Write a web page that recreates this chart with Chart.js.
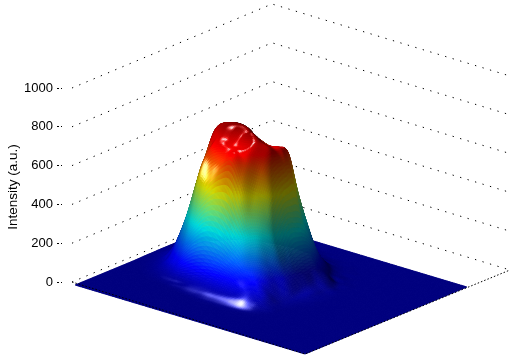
<!DOCTYPE html>
<html>
<head>
<meta charset="utf-8">
<style>
html,body{margin:0;padding:0;background:#fff;overflow:hidden}
canvas{display:block}
</style>
<script src="https://cdn.jsdelivr.net/npm/chart.js@4/dist/chart.umd.min.js"></script>
</head>
<body>
<canvas id="grafico" width="514" height="361"></canvas>
<script>
const zTicks = [0,200,400,600,800,1000]
const zLabel = "Intensity (a.u.)"

// heights, one row per step along the left-to-back edge (first row nearest the front)
const heights = [
[0,0,0,0,0,0,0,0,0,0,0,0,0,0,0,0,0,0,0,0,0,0,0,0,0,0],
[0,0,0,0,0,0,0,0,0,0,0,0,0,0,0,0,0,0,0,0,0,0,0,0,0,0],
[0,0,0,0,0,0,0,0,0,0,0,0,0,0,0,0,0,0,0,0,0,0,0,0,0,0],
[0,0,0,0,0,0,0,0,0,0,0,0,0,0,0,0,0,0,0,0,0,0,0,0,0,0],
[0,0,0,0,0,0,0,0,0,0,0,0,0,0,0,0,0,0,0,0,0,0,0,0,0,0],
[0,0,0,0,0,0,0,0,1,3,6,7,8,8,6,2,0,0,0,0,0,0,0,0,0,0],
[0,0,0,0,1,2,5,9,16,22,27,30,32,32,28,16,4,0,0,0,0,0,0,0,0,0],
[0,0,0,3,8,15,26,38,54,68,78,84,85,78,60,36,12,0,0,0,0,0,0,0,0,0],
[0,0,3,11,24,50,102,150,180,190,185,165,145,115,85,50,14,0,0,0,0,0,0,0,0,0],
[0,2,8,24,62,135,225,305,365,385,370,315,250,175,110,52,14,2,0,0,0,0,0,0,0,0],
[1,4,16,45,130,240,375,490,555,610,640,540,390,270,155,65,20,4,1,0,0,0,0,0,0,0],
[2,8,27,90,210,365,545,640,670,665,680,650,515,370,225,105,30,8,2,0,0,0,0,0,0,0],
[2,13,40,130,270,470,600,690,700,680,690,705,620,472,268,132,40,13,2,0,0,0,0,0,0,0],
[3,15,50,158,325,535,700,735,740,715,745,715,670,525,330,155,52,15,3,0,0,0,0,0,0,0],
[3,15,50,160,330,600,715,742,750,740,695,680,665,545,325,165,58,15,3,0,0,0,0,0,0,0],
[3,14,45,145,305,590,700,720,720,685,655,660,660,545,305,160,68,18,3,0,0,0,0,0,0,0],
[2,11,33,105,240,420,650,680,670,640,625,610,620,340,245,110,58,11,2,0,0,0,0,0,0,0],
[1,7,22,70,165,305,455,570,615,610,590,555,450,300,165,70,22,7,1,0,0,0,0,0,0,0],
[0,3,13,33,92,175,290,400,465,490,465,400,290,175,92,33,13,3,0,0,0,0,0,0,0,0],
[0,1,4,15,40,90,155,225,265,285,265,225,155,90,40,15,4,1,0,0,0,0,0,0,0,0],
[0,0,2,6,15,30,55,92,122,130,122,92,55,30,15,6,2,0,0,0,0,0,0,0,0,0],
[0,0,0,2,4,11,18,27,33,38,33,27,18,11,4,2,0,0,0,0,0,0,0,0,0,0],
[0,0,0,0,1,2,4,8,11,11,11,8,4,2,1,0,0,0,0,0,0,0,0,0,0,0],
[0,0,0,0,0,0,1,1,2,2,2,1,1,0,0,0,0,0,0,0,0,0,0,0,0,0],
[0,0,0,0,0,0,0,0,0,0,0,0,0,0,0,0,0,0,0,0,0,0,0,0,0,0],
[0,0,0,0,0,0,0,0,0,0,0,0,0,0,0,0,0,0,0,0,0,0,0,0,0,0]
]

/* vista: x scale runs in page pixels, y scale in intensity units */
const pxPerUnit = 0.194
const plotLeft = 62
const plotTop = 13
const zeroY = 282
const cMax = 760

function toX(s,t){ return 75 + 230*s + 162*t }
function toZ(s,t,z){ return z + (-3 - 69*s + 67*t)/pxPerUnit }

// caja: izquierda, frente, derecha, fondo
const boxLeft = {x:72, z:0}
const boxFront = {x:305, z:-72/pxPerUnit}
const boxRight = {x:510, z:12/pxPerUnit}
const boxBack = {x:272, z:84/pxPerUnit}

function jet(v){
  v = Math.max(0,Math.min(1,v))
  const f = c => Math.max(0,Math.min(1,1.5-Math.abs(4*v-c)))
  return [f(3),f(2),f(1)]
}

function cr(a,b,c,d,u){
  return b + 0.5*u*(c-a + u*(2*a-5*b+4*c-d + u*(3*(b-c)+d-a)))
}

function sample(fs,ft){
  const n = heights.length-1, m = heights[0].length-1
  const j = Math.min(Math.floor(ft),n-1), i = Math.min(Math.floor(fs),m-1)
  const u = fs-i, w = ft-j
  const cols = []
  for(let b=-1;b<=2;b++){
    const r = heights[Math.max(0,Math.min(n,j+b))]
    cols.push(cr(r[Math.max(0,i-1)],r[i],r[i+1],r[Math.min(m,i+2)],u))
  }
  return Math.max(0,cr(cols[0],cols[1],cols[2],cols[3],w))
}

function norm(v){
  const l = Math.hypot(v[0],v[1],v[2])
  return [v[0]/l,v[1]/l,v[2]/l]
}
function dot(a,b){ return a[0]*b[0]+a[1]*b[1]+a[2]*b[2] }

const kZ = 0.000735
const luzBase = norm([-0.05,-0.55,0.85])
const brillo1 = norm([0.1,-0.42,0.9])
const brillo2 = norm([-0.45,-0.83,0.3])

const surfacePlugin = {
  id:"surface",
  afterDatasetDraw(chart,args){
    if(chart.data.datasets[args.index].label !== "surface") return
    const ctx = chart.ctx, sx = chart.scales.x, sy = chart.scales.y
    const sub = 8
    const rows = heights.length-1, cols = heights[0].length-1
    const nT = rows*sub, nS = cols*sub
    const Z = []
    for(let b=0;b<=nT;b++){
      Z[b] = []
      for(let a=0;a<=nS;a++) Z[b][a] = sample(a/sub,b/sub)
    }
    const ds = 1/nS, dt = 1/nT
    ctx.save()
    ctx.lineWidth = 0.7
    ctx.lineJoin = "round"
    for(let b=nT-1;b>=0;b--){
      for(let a=0;a<nS;a++){
        const z00=Z[b][a], z10=Z[b][a+1], z01=Z[b+1][a], z11=Z[b+1][a+1]
        const s0=a*ds, s1=(a+1)*ds, t0=b*dt, t1=(b+1)*dt
        const zm=(z00+z10+z01+z11)/4
        const N = norm([-kZ*((z10+z11)-(z00+z01))/(2*ds), -kZ*((z01+z11)-(z00+z10))/(2*dt), 1])
        let shade = 1.35*dot(N,luzBase) - 0.13
        shade = Math.max(0.4,Math.min(1,shade))
        const alto = Math.max(0,Math.min(1,(zm-490)/30))*Math.max(0,Math.min(1,(600-zm)/30))
        const sp = 1.0*Math.pow(Math.max(0,dot(N,brillo1)),110) + 0.7*alto*Math.pow(Math.max(0,dot(N,brillo2)),130)
        const c = jet(zm/cMax)
        const col = "rgb("+c.map(v=>Math.round(Math.min(1,v*shade+sp)*255)).join(",")+")"
        ctx.fillStyle = col
        ctx.strokeStyle = col
        ctx.beginPath()
        ctx.moveTo(sx.getPixelForValue(toX(s0,t0)),sy.getPixelForValue(toZ(s0,t0,z00)))
        ctx.lineTo(sx.getPixelForValue(toX(s1,t0)),sy.getPixelForValue(toZ(s1,t0,z10)))
        ctx.lineTo(sx.getPixelForValue(toX(s1,t1)),sy.getPixelForValue(toZ(s1,t1,z11)))
        ctx.lineTo(sx.getPixelForValue(toX(s0,t1)),sy.getPixelForValue(toZ(s0,t1,z01)))
        ctx.closePath()
        ctx.fill()
        ctx.stroke()
      }
    }
    ctx.restore()
  }
}

const datasets = []

zTicks.forEach(z => {
  datasets.push({
    label:"z"+z,
    data:[
      {x:boxLeft.x,y:boxLeft.z+z},
      {x:boxBack.x,y:boxBack.z+z},
      {x:boxRight.x,y:boxRight.z+z}
    ],
    showLine:true,
    borderColor:"#000",
    borderWidth:1,
    borderDash:[1.3,6.5],
    pointRadius:0,
    clip:false,
    order:3
  })
})

const nodos = []
heights.forEach((r,j) => r.forEach((h,i) => {
  const s = i/(r.length-1), t = j/(heights.length-1)
  nodos.push({x:toX(s,t),y:toZ(s,t,h)})
}))
datasets.push({label:"surface",data:nodos,pointRadius:0,showLine:false,clip:false,order:2})

datasets.push({
  label:"frente",
  data:[
    {x:boxLeft.x,y:boxLeft.z},
    {x:boxFront.x,y:boxFront.z},
    {x:boxRight.x,y:boxRight.z}
  ],
  showLine:true,
  borderColor:"#000",
  borderWidth:1,
  borderDash:[1.5,2],
  pointRadius:0,
  clip:false,
  order:1
})

new Chart(document.getElementById("grafico"),{
  type:"scatter",
  data:{datasets:datasets},
  plugins:[surfacePlugin],
  options:{
    responsive:false,
    animation:false,
    layout:{padding:{top:plotTop}},
    plugins:{legend:{display:false},tooltip:{enabled:false}},
    scales:{
      x:{
        display:false,
        min:plotLeft,
        max:514
      },
      y:{
        min:(zeroY-361)/pxPerUnit,
        max:(zeroY-plotTop)/pxPerUnit,
        afterFit(scale){
          scale.width = plotLeft
          scale.paddingTop = 0
          scale.paddingBottom = 0
        },
        afterBuildTicks(scale){ scale.ticks = zTicks.map(v => ({value:v})) },
        border:{display:false},
        grid:{
          drawOnChartArea:false,
          drawTicks:true,
          tickLength:5,
          tickColor:"#000",
          tickBorderDash:[2,2]
        },
        ticks:{
          color:"#000",
          padding:4,
          autoSkip:false,
          font:{family:"'Liberation Sans'",size:13},
          callback:v => v
        },
        title:{
          display:true,
          text:zLabel,
          color:"#000",
          padding:{top:5,bottom:0},
          font:{family:"'Liberation Sans'",size:13.5}
        }
      }
    }
  }
})
</script>
</body>
</html>
